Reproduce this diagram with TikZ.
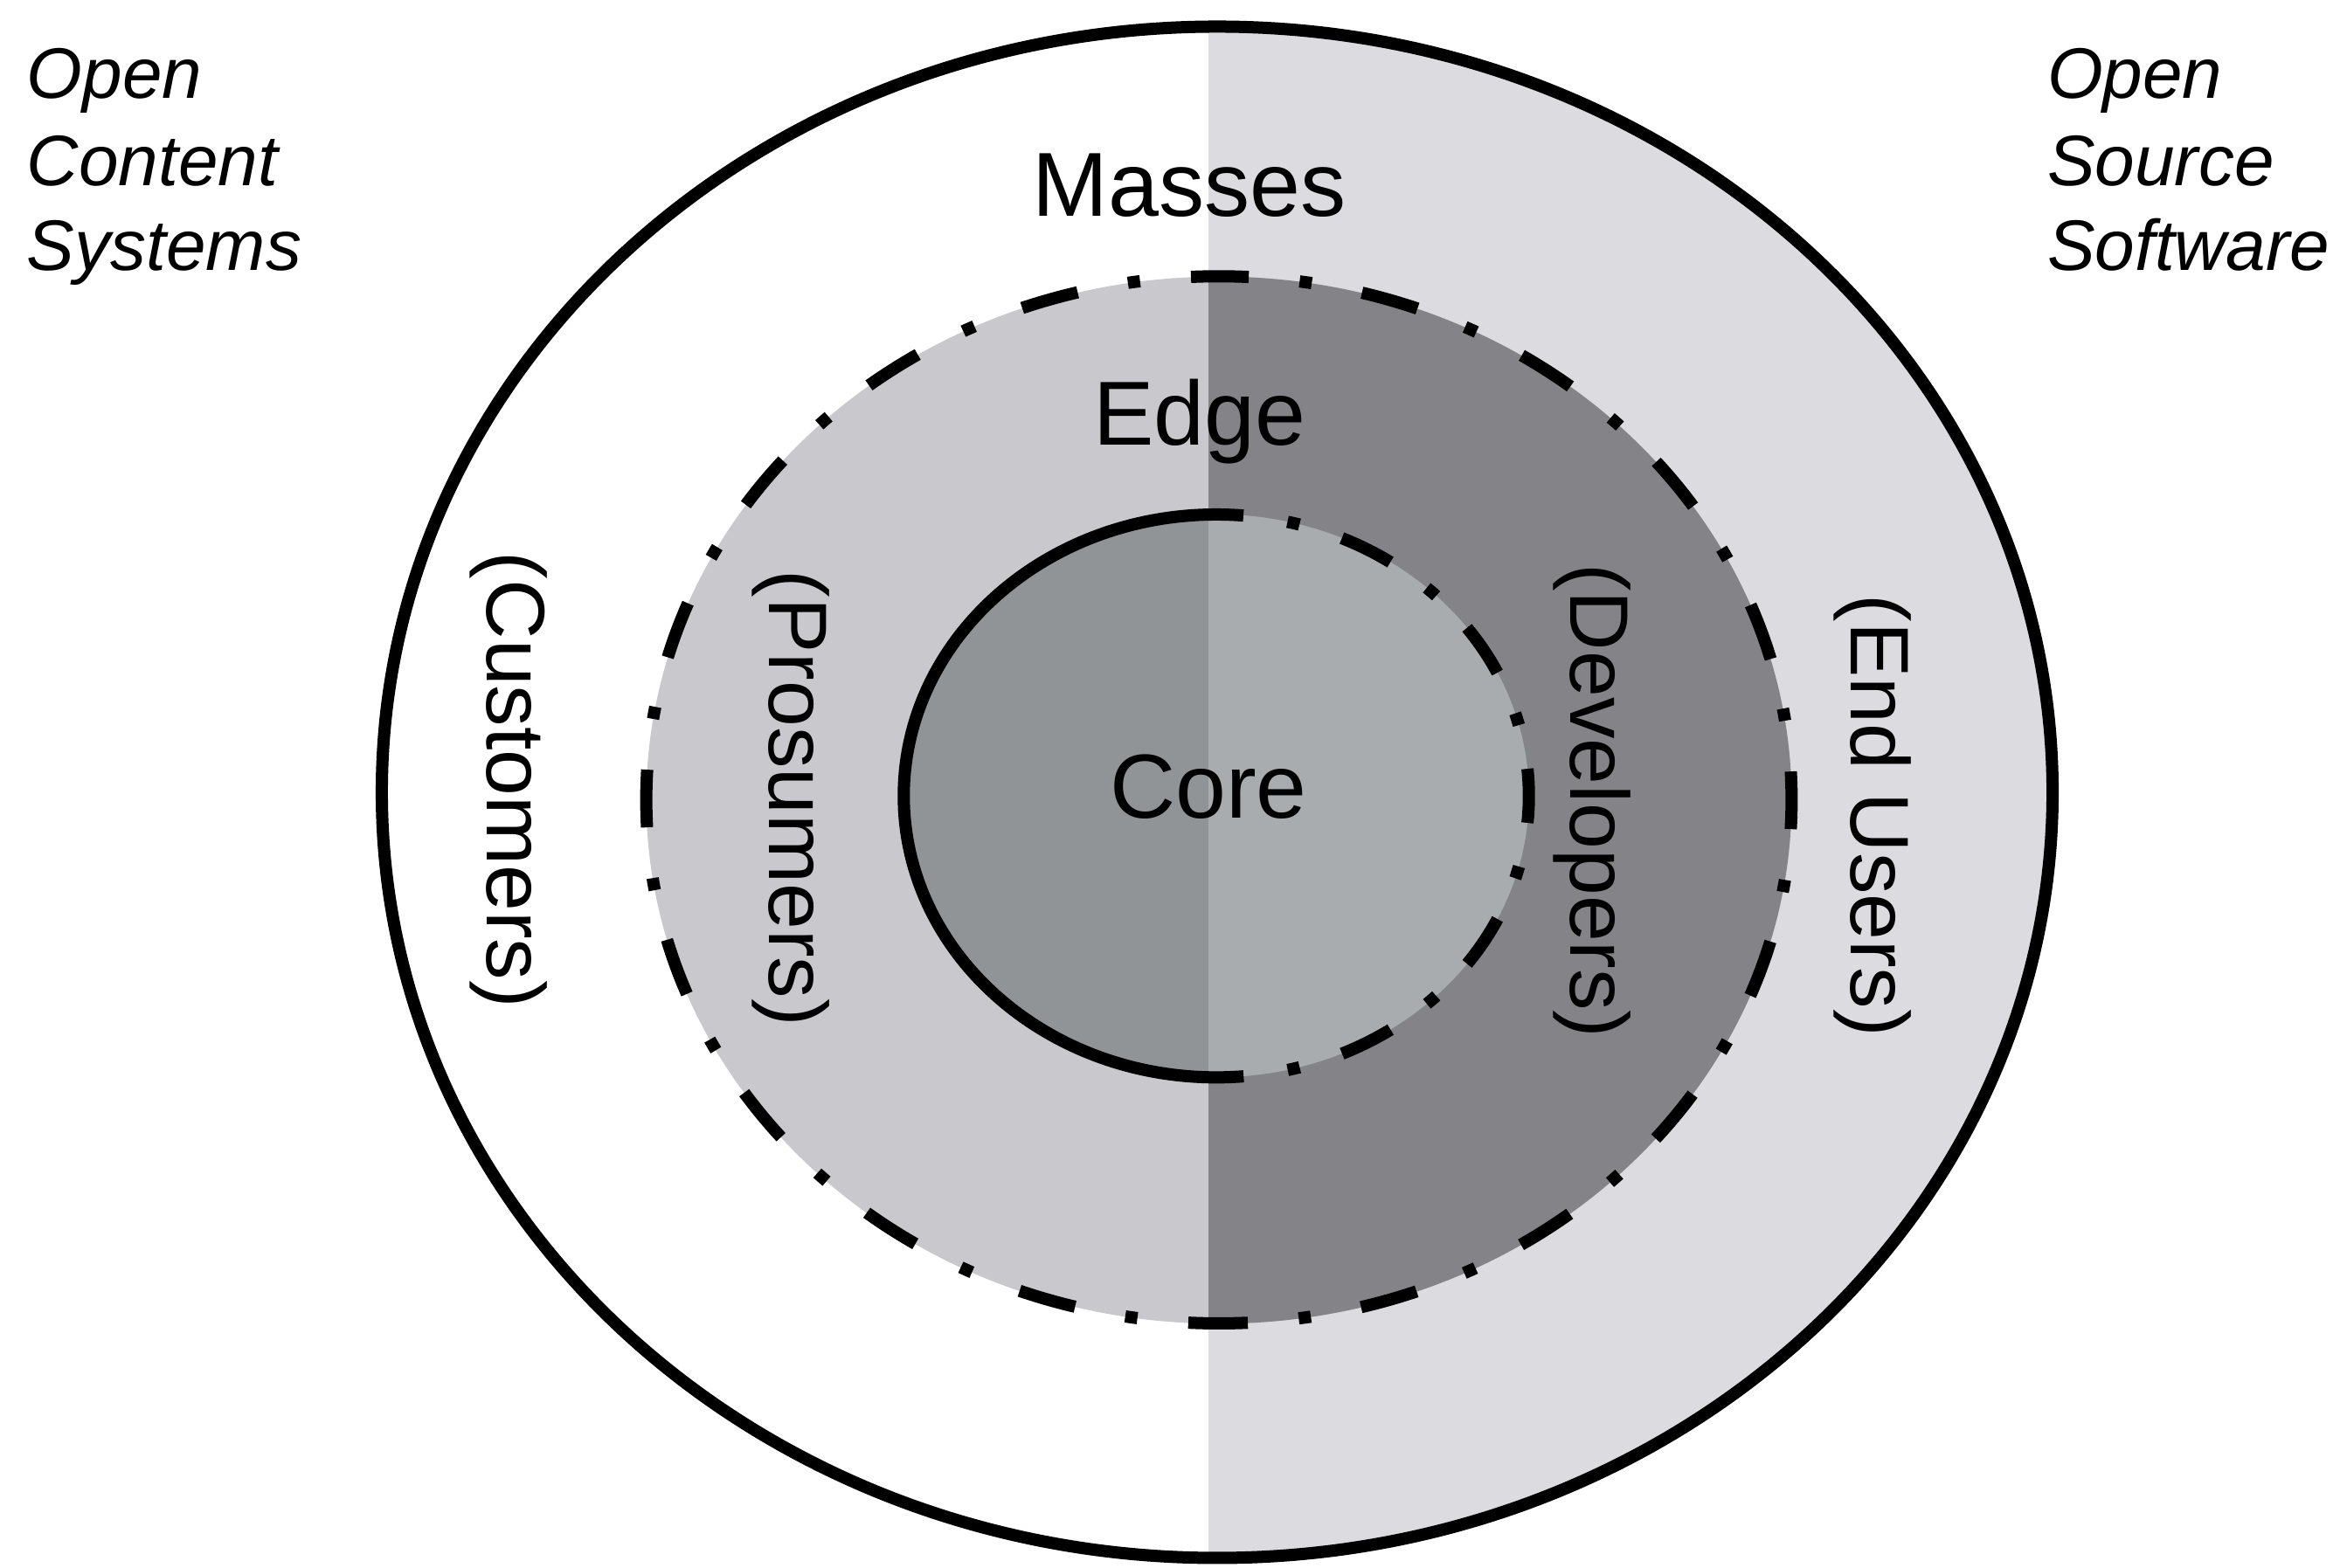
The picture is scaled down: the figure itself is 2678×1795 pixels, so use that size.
\documentclass[tikz,border=0pt]{standalone}
\usepackage{fontspec}
\setmainfont{Liberation Sans}
\definecolor{outerR}{HTML}{DCDCE0}
\definecolor{midL}{HTML}{C9C9CD}
\definecolor{midR}{HTML}{838388}
\definecolor{innL}{HTML}{909496}
\definecolor{innR}{HTML}{A9ACAE}
\begin{document}
\begin{tikzpicture}[x=0.01cm,y=0.01cm,
  every node/.style={inner sep=0pt, outer sep=0pt},
  big/.style={font=\fontsize{29.6}{34}\selectfont},
  side/.style={font=\fontsize{27}{32}\selectfont, rotate=-90},
  corner/.style={font=\fontsize{23.3}{28}\selectfont\itshape, anchor=base west},
  ring/.style={line width=0.14cm, black},
  dd/.style={ring, dash pattern=on 0.66cm off 0.585cm on 0.14cm off 0.585cm, dash phase=0.33cm},
  ddi/.style={ring, dash pattern=on 0.62cm off 0.51cm on 0.14cm off 0.51cm, dash phase=0.31cm}]
\fill[white] (0,0) rectangle (2678,1795);
\useasboundingbox (0,0) rectangle (2678,1795);
% fills
\begin{scope}
  \clip (1383,0) rectangle (2678,1795);
  \fill[outerR] (1393,888) ellipse [x radius=9.555cm, y radius=8.76cm];
\end{scope}
\fill[midL] (1395,879) ellipse [x radius=6.55cm, y radius=5.99cm];
\begin{scope}
  \clip (1383,0) rectangle (2678,1795);
  \fill[midR] (1395,879) ellipse [x radius=6.55cm, y radius=5.99cm];
\end{scope}
\fill[innL] (1392,884) ellipse [x radius=3.575cm, y radius=3.22cm];
\begin{scope}
  \clip (1383,0) rectangle (2678,1795);
  \fill[innR] (1392,884) ellipse [x radius=3.575cm, y radius=3.22cm];
\end{scope}
% borders
\draw[ring] (1393,888) ellipse [x radius=9.555cm, y radius=8.76cm];
\draw[dd] (1395,280) arc [start angle=-90, end angle=270, x radius=6.55cm, y radius=5.99cm];
\draw[ring] (1392,1206) arc [start angle=90, end angle=270, x radius=3.575cm, y radius=3.22cm];
\draw[ddi] (1392,1206) arc [start angle=90, end angle=-90, x radius=3.575cm, y radius=3.22cm];
% labels
\node[big, anchor=base] (masses) at (1361,1547) {Masses};
\node[big, anchor=base] (edge) at (1373,1285) {Edge};
\node[big, anchor=base] (core) at (1383,858) {Core};
\node[side] (customers) at (582,902) {(Customers)};
\node[side] (prosumers) at (905,881) {(Prosumers)};
\node[side] (developers) at (1822,878) {(Developers)};
\node[side] (endusers) at (2143,861) {(End Users)};
\node[corner] (ocs1) at (31,1682) {Open};
\node[corner] (ocs2) at (31,1582) {Content};
\node[corner] (ocs3) at (31,1485) {Systems};
\node[corner] (oss1) at (2343,1682) {Open};
\node[corner] (oss2) at (2343,1582) {Source};
\node[corner] (oss3) at (2343,1485) {Software};
\end{tikzpicture}
\end{document}
